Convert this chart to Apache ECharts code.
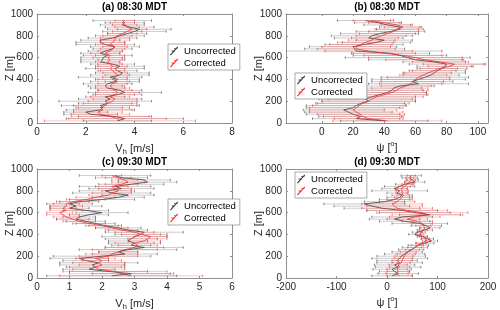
<!DOCTYPE html>
<html><head><meta charset="utf-8">
<script src="https://cdn.jsdelivr.net/npm/echarts@6/dist/echarts.min.js"></script>
<style>html,body{margin:0;padding:0;background:#fff}#c{width:500px;height:310px}</style>
</head><body><div id="c"></div>
<script>
// Heights (m), bottom to top
const heights = [20,40,60,80,100,120,140,160,180,200,220,240,260,280,300,320,340,360,380,400,420,440,460,480,500,520,540,560,580,600,620,640,660,680,700,720,740,760,780,800,820,840,860,880,900,920,940];

// (a) 08:30 Vh [m/s]
const aUncMean = [3.3,3.6,3.2,2.2,2.0,2.6,2.7,2.6,2.9,2.8,3.0,2.8,3.3,3.6,3.4,2.9,2.8,2.9,3.2,3.3,3.0,3.4,3.5,3.3,3.2,3.4,3.1,2.6,2.7,2.7,2.9,2.6,2.8,3.1,3.2,2.8,2.6,2.6,3.1,3.4,3.7,4.0,4.2,3.8,3.5,3.6,3.5];
const aUncErr  = [1.4,2.4,1.5,1.1,0.9,1.4,1.1,1.6,1.2,1.9,1.3,0.8,1.0,1.5,0.9,0.7,0.7,1.0,1.0,0.9,1.3,1.2,1.1,0.8,1.2,1.0,0.9,0.8,0.9,0.9,1.0,0.8,0.7,0.8,1.0,1.2,1.0,0.8,1.0,1.0,0.8,1.3,1.3,1.0,0.9,0.8,1.2];
const aCorMean = [3.4,3.3,3.0,2.6,2.5,2.7,2.6,2.8,2.9,3.1,3.2,3.0,3.2,3.3,3.2,3.1,3.0,3.1,3.3,3.1,3.2,3.3,3.2,3.1,3.0,3.1,3.0,2.9,3.0,2.9,3.0,2.8,3.0,3.1,3.2,3.0,3.1,3.2,3.2,3.3,3.5,3.7,3.9,3.7,3.6,3.5,3.6];
const aCorErr  = [3.1,2.0,1.6,1.2,1.0,1.2,0.9,1.3,1.0,1.0,0.9,0.8,0.8,0.9,0.7,0.7,0.6,0.6,0.5,0.6,0.5,0.5,0.5,0.5,0.6,0.6,0.5,0.5,0.5,0.6,0.6,0.6,0.5,0.5,0.5,0.6,0.5,0.6,0.6,0.6,0.6,0.6,0.6,0.5,0.5,0.5,0.4];

// (b) 08:30 psi [deg]
const bUncMean = [40,22,25,20,17,14,20,22,25,30,28,32,37,42,45,46,50,62,58,62,66,70,72,74,77,79,80,72,60,55,50,44,22,21,20,27,35,40,30,32,37,44,50,50,42,36,28];
const bUncErr  = [28,28,27,30,28,26,30,32,28,30,30,28,30,25,20,18,22,32,26,30,28,18,20,18,16,18,24,20,30,40,30,25,55,32,28,25,22,18,22,26,25,22,15,13,15,15,18];
const bCorMean = [42,30,26,25,22,20,22,24,26,30,32,35,40,45,48,50,54,57,58,60,62,65,68,72,75,82,85,76,66,60,52,40,30,22,22,25,28,32,34,38,42,46,48,52,48,40,32];
const bCorErr  = [35,22,25,28,30,28,30,30,30,30,28,30,28,22,20,18,16,20,20,22,20,15,15,14,12,14,20,18,25,30,25,20,28,25,22,20,18,15,15,16,18,16,14,12,10,10,12];

// (c) 09:30 Vh [m/s]
const cUncMean = [2.3,2.9,2.2,1.6,1.8,1.7,1.9,1.5,1.3,2.0,2.7,2.5,2.8,3.3,2.9,3.0,2.8,2.9,3.0,3.2,3.3,2.8,2.5,2.1,1.8,1.5,1.2,1.3,1.6,2.0,1.5,1.0,1.2,1.0,1.3,2.0,2.5,2.8,2.3,2.1,2.6,2.4,2.9,3.4,3.3,2.6,2.4];
const cUncErr  = [2.0,1.2,1.2,0.8,0.9,1.0,1.2,0.7,0.9,1.5,1.0,0.6,1.5,1.2,0.6,0.8,0.6,0.8,1.0,0.8,1.2,0.6,0.7,0.5,0.6,0.6,0.6,0.5,0.6,0.8,0.7,0.6,0.8,0.7,0.6,1.0,0.8,0.8,1.2,0.8,1.0,1.1,1.0,0.9,0.8,0.8,1.1];
const cCorMean = [2.9,2.6,2.4,1.9,1.8,2.0,1.9,2.0,1.8,2.2,2.3,2.5,2.7,3.0,3.1,3.0,3.3,3.4,3.5,3.2,3.0,2.6,2.3,2.0,1.6,1.3,1.1,0.9,0.8,0.7,0.9,0.8,0.9,0.9,1.1,1.5,1.8,2.2,2.3,2.5,2.4,2.3,2.6,2.8,2.7,2.5,2.3];
const cCorErr  = [2.2,1.6,1.6,0.8,0.8,0.7,0.8,0.6,0.6,0.9,0.8,0.6,1.0,0.9,0.6,0.6,0.5,0.6,0.5,0.6,0.6,0.5,0.5,0.5,0.5,0.5,0.5,0.4,0.5,0.4,0.5,0.4,0.5,0.4,0.5,0.6,0.6,0.6,0.6,0.5,0.5,0.5,0.5,0.5,0.4,0.4,0.3];

// (d) 09:30 psi [deg]
const dUncMean = [10,22,15,10,22,15,25,20,25,28,35,40,48,55,62,75,88,80,70,55,60,75,85,78,65,35,15,30,85,55,30,-10,-30,-45,-5,15,25,30,20,25,15,25,35,55,50,45,48];
const dUncErr  = [40,40,30,38,45,40,45,40,55,48,40,30,25,25,20,18,12,12,10,12,10,15,20,30,55,50,50,60,60,70,70,75,75,80,40,30,25,20,20,55,25,30,18,20,12,15,20];
const dCorMean = [25,20,22,20,25,22,28,30,32,34,38,42,50,55,60,68,78,76,72,65,68,72,75,72,70,60,40,55,80,70,40,20,15,10,20,25,30,32,30,30,28,35,40,45,48,45,48];
const dCorErr  = [25,22,22,20,20,18,18,20,18,18,18,16,14,14,12,10,8,8,8,8,8,8,10,15,20,30,40,50,70,90,80,70,55,60,35,25,15,12,12,12,12,12,10,10,8,8,8];

const panelTitles = ['(a) 08:30 MDT','(b) 08:30 MDT','(c) 09:30 MDT','(d) 09:30 MDT'];
const xTickValues = [[0,2,4,6,8],[0,20,40,60,80,100],[0,1,2,3,4,5,6],[-200,-100,0,100,200]];
const xRanges = [[0,8],[-23,106.5],[0,6],[-200,200]];
const yTickValues = [0,200,400,600,800,1000];
const seriesNames = ['Uncorrected','Corrected'];

const panels = [
  {unc:[aUncMean,aUncErr], cor:[aCorMean,aCorErr], xname:'vh'},
  {unc:[bUncMean,bUncErr], cor:[bCorMean,bCorErr], xname:'psi'},
  {unc:[cUncMean,cUncErr], cor:[cCorMean,cCorErr], xname:'vh'},
  {unc:[dUncMean,dUncErr], cor:[dCorMean,dCorErr], xname:'psi'}
];

const FONT = '"Liberation Sans", Arial, Helvetica, sans-serif';
const grids = [
  {left:37, top:14, width:195, height:109},
  {left:286, top:14, width:202, height:109},
  {left:37, top:169, width:195, height:109},
  {left:286, top:169, width:202, height:109}
];
const legendPos = [
  {left:168, top:44}, {left:295, top:73}, {left:168, top:199}, {left:295, top:172}
];
const frameColor = '#8f8f8f';
const textColor = '#262626';

const xAxes = [], yAxes = [], series = [], titles = [], legends = [];

function errRenderer(barColor, capColor){
  return function(params, api){
    const lo = api.value(0), hi = api.value(1), z = api.value(2);
    const p1 = api.coord([lo, z]), p2 = api.coord([hi, z]);
    const c = 1.3;
    return {type:'group', children:[
      {type:'line', shape:{x1:p1[0], y1:p1[1], x2:p2[0], y2:p2[1]}, style:{stroke:barColor, lineWidth:0.7}},
      {type:'line', shape:{x1:p1[0], y1:p1[1]-c, x2:p1[0], y2:p1[1]+c}, style:{stroke:capColor, lineWidth:0.7}},
      {type:'line', shape:{x1:p2[0], y1:p2[1]-c, x2:p2[0], y2:p2[1]+c}, style:{stroke:capColor, lineWidth:0.7}}
    ]};
  };
}

const vhName = {
  text: '{a|V}{b|h}{a| [m/s]}',
  rich: {a:{fontSize:11, color:textColor, fontFamily:FONT}, b:{fontSize:8, color:textColor, fontFamily:FONT, padding:[7,0,0,0]}}
};
const psiName = {
  text: '{a|ψ [}{b|o}{a|]}',
  rich: {a:{fontSize:11, color:textColor, fontFamily:FONT}, b:{fontSize:7, color:textColor, fontFamily:FONT, padding:[0,0,6,0]}}
};
const plainNum = v => String(v);

panels.forEach((p, i) => {
  const g = grids[i];
  const nm = p.xname === 'vh' ? vhName : psiName;
  xAxes.push({
    gridIndex:i, type:'value', position:'bottom', min:xRanges[i][0], max:xRanges[i][1],
    name: nm.text, nameLocation:'middle', nameGap:18, nameMoveOverlap:false,
    nameTextStyle:{rich:nm.rich, color:textColor},
    axisLine:{show:true, onZero:false, lineStyle:{color:frameColor, width:1}},
    axisTick:{show:true, inside:true, length:2, customValues:xTickValues[i], lineStyle:{color:frameColor}},
    axisLabel:{show:true, customValues:xTickValues[i], formatter:plainNum, fontSize:10, color:textColor, fontFamily:FONT, margin:4, hideOverlap:false},
    splitLine:{show:false}
  });
  xAxes.push({
    gridIndex:i, type:'value', position:'top', min:xRanges[i][0], max:xRanges[i][1],
    axisLine:{show:true, onZero:false, lineStyle:{color:frameColor, width:1}},
    axisTick:{show:true, inside:true, length:2, customValues:xTickValues[i], lineStyle:{color:frameColor}},
    axisLabel:{show:false}, splitLine:{show:false}
  });
  yAxes.push({
    gridIndex:i, type:'value', position:'left', min:0, max:1000,
    name:'Z [m]', nameLocation:'middle', nameGap:22, nameMoveOverlap:false,
    nameTextStyle:{fontSize:11, color:textColor, fontFamily:FONT},
    axisLine:{show:true, onZero:false, lineStyle:{color:frameColor, width:1}},
    axisTick:{show:true, inside:true, length:2, customValues:yTickValues, lineStyle:{color:frameColor}},
    axisLabel:{show:true, customValues:yTickValues, formatter:plainNum, fontSize:10, color:textColor, fontFamily:FONT, margin:4},
    splitLine:{show:false}
  });
  yAxes.push({
    gridIndex:i, type:'value', position:'right', min:0, max:1000,
    axisLine:{show:true, onZero:false, lineStyle:{color:frameColor, width:1}},
    axisTick:{show:true, inside:true, length:2, customValues:yTickValues, lineStyle:{color:frameColor}},
    axisLabel:{show:false}, splitLine:{show:false}
  });

  const mkErr = (arr) => heights.map((z,k) => [arr[0][k]-arr[1][k], arr[0][k]+arr[1][k], z]);
  const mkLine = (arr) => heights.map((z,k) => [arr[0][k], z]);

  series.push({
    name:'errU'+i, type:'custom', xAxisIndex:2*i, yAxisIndex:2*i, clip:true, silent:true,
    renderItem: errRenderer('rgba(110,110,110,0.5)', 'rgba(60,60,60,0.8)'),
    encode:{x:[0,1], y:2}, data: mkErr(p.unc), z:1
  });
  series.push({
    name:'Uncorrected', type:'line', xAxisIndex:2*i, yAxisIndex:2*i, symbol:'none', clip:true,
    color:'#3a3a3a', lineStyle:{color:'#3a3a3a', width:0.8}, data: mkLine(p.unc), z:2, animation:false
  });
  series.push({
    name:'errC'+i, type:'custom', xAxisIndex:2*i, yAxisIndex:2*i, clip:true, silent:true,
    renderItem: errRenderer('rgba(255,70,70,0.45)', 'rgba(255,40,40,0.85)'),
    encode:{x:[0,1], y:2}, data: mkErr(p.cor), z:3
  });
  series.push({
    name:'Corrected', type:'line', xAxisIndex:2*i, yAxisIndex:2*i, symbol:'none', clip:true,
    color:'#ff2a2a', lineStyle:{color:'#ff2a2a', width:0.8}, data: mkLine(p.cor), z:4, animation:false
  });

  titles.push({
    text: panelTitles[i], left: g.left + g.width/2, top: g.top - 12, textAlign:'center', padding:0,
    textStyle:{fontSize:10, fontWeight:'bold', color:'#000', fontFamily:FONT}
  });
  legends.push({
    data: seriesNames, left: legendPos[i].left, top: legendPos[i].top, orient:'vertical',
    itemWidth:14, itemHeight:9, itemGap:2, padding:[2,4,2,2],
    backgroundColor:'#fff', borderColor:'#555', borderWidth:0.5, borderRadius:0,
    icon:'path://M0,10 L9,0 L10,1 L1,11 Z M2,5 L6,5 L6,6 L2,6 Z M5,2 L9,2 L9,3 L5,3 Z',
    textStyle:{fontSize:9.5, color:'#000', fontFamily:FONT, padding:[0,0,0,-2]},
    selectedMode:false, z:10
  });
});

const chart = echarts.init(document.getElementById('c'), null, {renderer:'canvas'});
chart.setOption({
  animation:false,
  backgroundColor:'#fff',
  textStyle:{fontFamily:FONT},
  title: titles,
  legend: legends,
  grid: grids.map(g => Object.assign({show:false, containLabel:false, outerBoundsMode:'none'}, g)),
  xAxis: xAxes,
  yAxis: yAxes,
  series: series
});
</script>
</body></html>
